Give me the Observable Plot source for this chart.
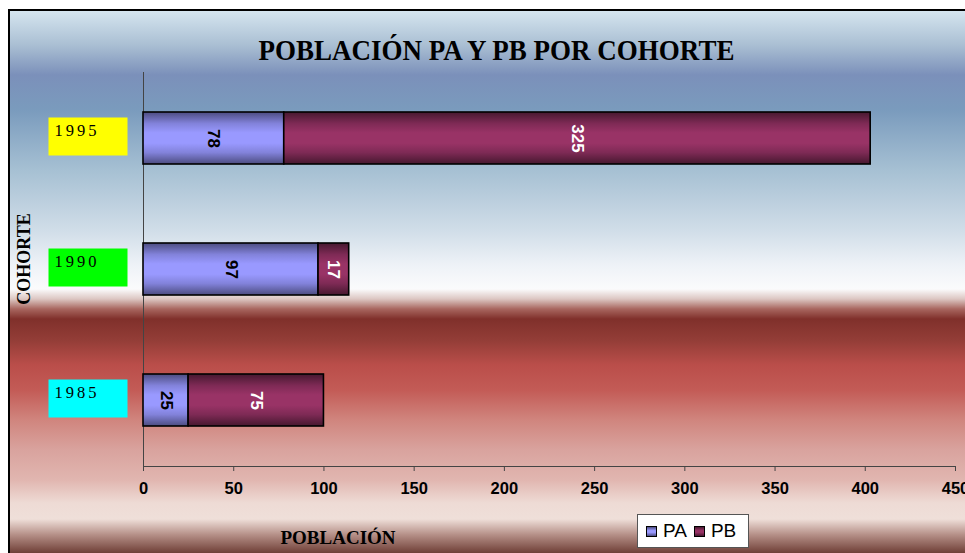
<!DOCTYPE html>
<html>
<head>
<meta charset="utf-8">
<script src="https://cdn.jsdelivr.net/npm/d3@7"></script>
<script src="https://cdn.jsdelivr.net/npm/@observablehq/plot@0.6"></script>
<style>
  body { margin: 0; background: #fff; }
  #wrap { position: relative; width: 965px; height: 553px; overflow: hidden; background: #fff; }
  #frame {
    position: absolute; left: 8px; top: 9px; width: 990px; height: 560px;
    border-left: 2px solid #000; border-top: 2px solid #000;
    background: linear-gradient(to bottom,
      #d5e5ef 0px, #aabfd3 34px, #7b90ba 64px, #7a9bbd 99px, #a6c0d3 159px,
      #d0dde8 219px, #eef2f7 254px, #fbfbfc 278px, #dcc6c2 288px, #a8665f 298px,
      #80302b 308px, #933d37 329px, #ba4e4a 354px, #c35b56 379px, #d0857e 409px,
      #d9a39e 439px, #e1b6b0 469px, #eedbd5 492px, #efdfd9 508px, #b48e86 524px, #6f3f37 542px);
  }
  #chart { position: absolute; left: 0; top: 0; }
  .ttl { position: absolute; font-family: "Liberation Serif", "Times New Roman", serif; font-weight: bold; color: #000; white-space: nowrap; }
  #title { left: 0; width: 993px; text-align: center; top: 35px; font-size: 27px; transform: scaleY(1.06); }
  #ytitle { left: 24px; top: 259px; font-size: 18px; transform: translate(-50%, -50%) rotate(-90deg); }
  #xtitle { left: 338px; top: 527px; font-size: 19px; transform: translateX(-50%); }
  #legend { position: absolute; left: 637px; top: 514px; width: 112px; height: 34px; background: #fff; border: 1px solid #555;
    font-family: "Liberation Sans", Arial, sans-serif; font-size: 19px; display: flex; align-items: center; padding-left: 8px; box-sizing: border-box; }
  .sw { width: 9px; height: 9px; border: 1.5px solid #000; margin-right: 6px; flex: none; }
  .lab { margin-right: 7px; }
</style>
</head>
<body>
<div id="wrap">
  <div id="frame"></div>
  <div id="chart"></div>
  <div class="ttl" id="title">POBLACIÓN PA Y PB POR COHORTE</div>
  <div class="ttl" id="ytitle">COHORTE</div>
  <div class="ttl" id="xtitle">POBLACIÓN</div>
  <div id="legend"></div>
</div>
<script>
// ---- data ----
const cohorts = ["1995", "1990", "1985"];
const series = ["PA", "PB"];
const paValues = [78, 97, 25];
const pbValues = [325, 17, 75];
const xTicks = [0, 50, 100, 150, 200, 250, 300, 350, 400, 450];

// ---- styles ----
const cohortColors = ["#ffff00", "#00ff00", "#00ffff"];
const seriesFills = ["url(#gPA)", "url(#gPB)"];
const gradStops = {
  gPA: ["#4c4c80", "#8282da", "#9999ff", "#9999ff", "#8282da", "#4c4c80"],
  gPB: ["#46182f", "#7e2a55", "#993366", "#993366", "#7e2a55", "#46182f"]
};

const rows = cohorts.flatMap((c, i) => [
  {cohort: c, serie: series[0], value: paValues[i]},
  {cohort: c, serie: series[1], value: pbValues[i]}
]);

const boxSymbol = { draw(ctx) { ctx.rect(-39.5, -19, 79, 38); } };

const chart = Plot.plot({
  width: 965,
  height: 553,
  marginLeft: 143,
  marginRight: 10,
  marginTop: 72,
  marginBottom: 87,
  style: {background: "transparent", fontFamily: "'Liberation Sans', Arial, sans-serif", overflow: "visible"},
  x: {domain: [0, 450], ticks: xTicks, label: null},
  y: {domain: cohorts, paddingInner: 0.6, paddingOuter: 0.3, axis: null, label: null},
  color: {domain: series, range: seriesFills},
  marks: [
    ...cohorts.map((c, i) => Plot.dot([c], {y: d => d, frameAnchor: "left", dx: -55.5, dy: -2, symbol: boxSymbol, fill: cohortColors[i], stroke: "none"})),
    Plot.text(cohorts, {y: d => d, text: d => d, frameAnchor: "left", dx: -89, dy: -8, textAnchor: "start",
      fontFamily: "'Liberation Serif', 'Times New Roman', serif", fontSize: 16.5, fill: "#000"}),
    Plot.ruleX([0], {stroke: "#444", strokeWidth: 1}),
    Plot.frame({anchor: "bottom", stroke: "#444", strokeWidth: 1}),
    Plot.axisX({ticks: xTicks, tickSize: 5, tickPadding: 11, fontSize: 16.5, fontWeight: "bold", stroke: "#444", fill: "#000", label: null}),
    Plot.barX(rows, Plot.stackX({x: "value", y: "cohort", fill: "serie", stroke: "#000", strokeWidth: 1.6})),
    Plot.text(rows, Plot.stackX({x: "value", y: "cohort", text: d => d.serie === "PA" ? String(d.value) : null,
      rotate: 90, fill: "#000", fontWeight: "bold", fontSize: 17})),
    Plot.text(rows, Plot.stackX({x: "value", y: "cohort", text: d => d.serie === "PB" ? String(d.value) : null,
      rotate: 90, fill: "#fff", fontWeight: "bold", fontSize: 17}))
  ]
});

// gradient definitions for the bar fills
const svg = d3.select(chart);
const defs = svg.insert("defs", ":first-child");
const offs = [0, 0.22, 0.4, 0.6, 0.78, 1];
Object.entries(gradStops).forEach(([id, cols]) => {
  const lg = defs.append("linearGradient").attr("id", id).attr("x1", 0).attr("y1", 0).attr("x2", 0).attr("y2", 1);
  cols.forEach((col, k) => lg.append("stop").attr("offset", offs[k]).attr("stop-color", col));
});
svg.selectAll("text").filter(function () { return cohorts.includes(this.textContent); })
  .style("letter-spacing", "3px");

document.getElementById("chart").appendChild(chart);

// legend
const legend = d3.select("#legend");
series.forEach((s, i) => {
  const cols = Object.values(gradStops)[i];
  legend.append("div").attr("class", "sw")
    .style("background", `linear-gradient(to bottom, ${cols[0]}, ${cols[2]} 40%, ${cols[3]} 60%, ${cols[5]})`);
  legend.append("span").attr("class", "lab").text(s);
});
</script>
</body>
</html>
